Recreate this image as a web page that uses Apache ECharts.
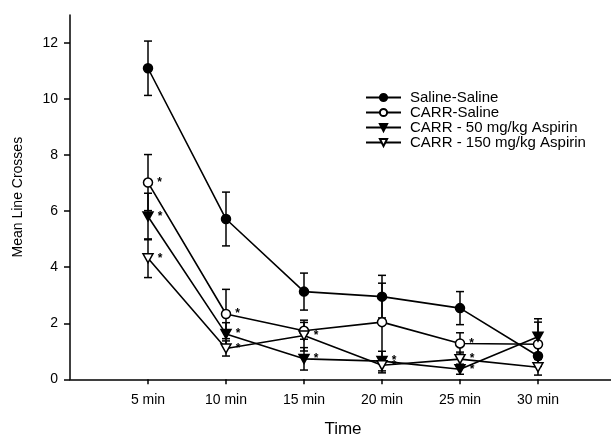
<!DOCTYPE html>
<html><head><meta charset="utf-8">
<script src="https://cdn.jsdelivr.net/npm/echarts@6/dist/echarts.min.js"></script>
<style>html,body{margin:0;padding:0;background:#fff}#c{width:611px;height:438px}</style>
</head><body><div id="c"></div>
<script>
const categories = ['5 min','10 min','15 min','20 min','25 min','30 min'];
const yTicks = [0,2,4,6,8,10,12];
const seriesNames = ['Saline-Saline','CARR-Saline','CARR - 50 mg/kg Aspirin','CARR - 150 mg/kg Aspirin'];
const salineSaline = [11.1, 5.72, 3.13, 2.95, 2.54, 0.83];
const salineSalineErr = [0.97, 0.96, 0.66, 0.76, 0.59, 0.35];
const carrSaline = [7.02, 2.33, 1.73, 2.04, 1.28, 1.25];
const carrSalineErr = [1.0, 0.88, 0.3, 1.39, 0.38, 0.79];
const carr50 = [5.81, 1.62, 0.73, 0.65, 0.36, 1.52];
const carr50Err = [0.83, 0.4, 0.4, 0.35, 0.18, 0.64];
const carr150 = [4.32, 1.1, 1.56, 0.5, 0.72, 0.43];
const carr150Err = [0.69, 0.27, 0.55, 0.27, 0.25, 0.28];
const salineStars = [0,0,0,0,0,0];
const carrSalineStars = [1,1,0,0,1,0];
const carr50Stars = [1,1,1,1,1,0];
const carr150Stars = [1,1,1,1,1,0];

const tri = 'path://M0,0 L10,0 L5,9 Z';
const defs = [
  {vals: salineSaline, err: salineSalineErr, stars: salineStars, symbol: 'circle', fill: '#000', size: 9},
  {vals: carrSaline, err: carrSalineErr, stars: carrSalineStars, symbol: 'circle', fill: '#fff', size: 9},
  {vals: carr50, err: carr50Err, stars: carr50Stars, symbol: tri, fill: '#000', size: [10,9]},
  {vals: carr150, err: carr150Err, stars: carr150Stars, symbol: tri, fill: '#fff', size: [10,9]}
];
const xPos = categories.map((c,i)=>i+1);
const font = 'Arial, "Liberation Sans", Helvetica, sans-serif';

const series = [];
defs.forEach((d, si) => {
  series.push({
    type: 'custom', name: seriesNames[si] + ' err', silent: true, z: 2,
    data: d.vals.map((v,i)=>[xPos[i], v, d.err[i]]),
    renderItem: function(params, api){
      const x = api.value(0), y = api.value(1), e = api.value(2);
      const top = api.coord([x, y+e]), bot = api.coord([x, y-e]);
      const w = 4;
      const st = {stroke:'#000', lineWidth:1.5};
      return {type:'group', children:[
        {type:'line', shape:{x1:top[0],y1:top[1],x2:bot[0],y2:bot[1]}, style:st},
        {type:'line', shape:{x1:top[0]-w,y1:top[1],x2:top[0]+w,y2:top[1]}, style:st},
        {type:'line', shape:{x1:bot[0]-w,y1:bot[1],x2:bot[0]+w,y2:bot[1]}, style:st}
      ]};
    }
  });
});
defs.forEach((d, si) => {
  series.push({
    type: 'line', name: seriesNames[si], z: 3 + si,
    data: d.vals.map((v,i)=>[xPos[i], v, d.stars[i]]),
    symbol: d.symbol, symbolSize: d.size, showAllSymbol: true,
    lineStyle: {color:'#000', width:1.6},
    itemStyle: {color: d.fill, borderColor:'#000', borderWidth:1.5},
    label: {show:true, position:'right', distance:4, color:'#000', fontSize:12, fontWeight:'bold', fontFamily: font,
      formatter: p => p.value[2] ? '*' : ''},
    emphasis: {disabled: true},
    animation: false
  });
});

const chart = echarts.init(document.getElementById('c'));
chart.setOption({
  animation: false,
  backgroundColor: '#fff',
  grid: {left: 70, top: 15, width: 546, height: 364.3, containLabel: false, outerBoundsMode: 'none'},
  legend: {
    orient: 'vertical', left: 360, top: 85, itemWidth: 35, itemHeight: 9, itemGap: 0,
    data: seriesNames,
    textStyle: {fontFamily: font, fontSize: 15, lineHeight: 15, color:'#000', padding: [0,0,0,4]}
  },
  xAxis: {
    type: 'value', min: 0, max: 7, interval: 1,
    name: 'Time', nameLocation: 'middle', nameGap: 42,
    nameTextStyle: {fontFamily: font, fontSize: 17, color:'#000'},
    axisLine: {lineStyle:{color:'#000', width:1.5}},
    axisTick: {show:true, length:5, lineStyle:{color:'#000', width:1.5}, customValues: xPos},
    axisLabel: {fontFamily: font, fontSize: 14, color:'#000', margin: 14, customValues: xPos,
      formatter: v => categories[Math.round(v)-1] || ''},
    splitLine: {show:false}
  },
  yAxis: {
    type: 'value', min: 0, max: 13, interval: 2,
    name: 'Mean Line Crosses', nameLocation: 'middle', nameGap: 45,
    nameTextStyle: {fontFamily: font, fontSize: 14, color:'#000'},
    axisLine: {show:true, lineStyle:{color:'#000', width:1.5}},
    axisTick: {show:true, length:6, lineStyle:{color:'#000', width:1.5}, customValues: yTicks},
    axisLabel: {fontFamily: font, fontSize: 14, color:'#000', margin: 12, customValues: yTicks},
    splitLine: {show:false}
  },
  series: series
});
</script></body></html>
